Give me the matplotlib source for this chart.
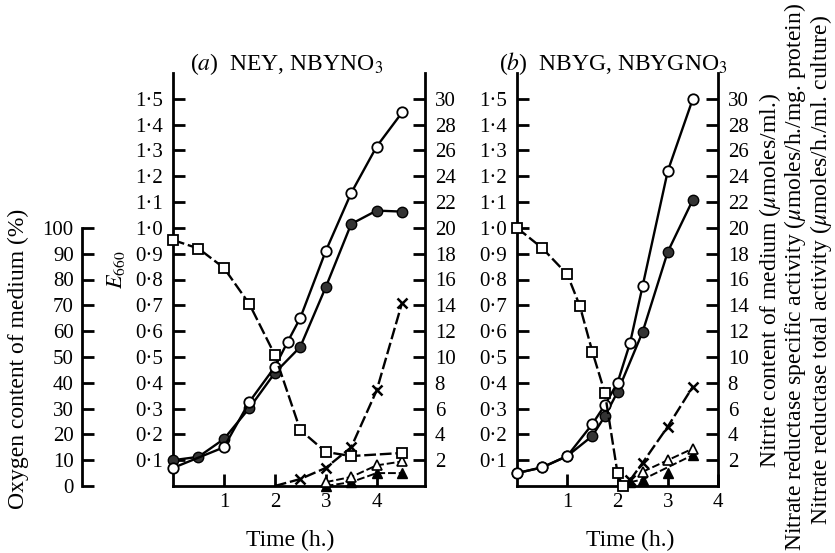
import matplotlib
matplotlib.use("Agg")
import matplotlib.pyplot as plt
import numpy as np

plt.rcParams["font.family"] = ["Liberation Serif", "DejaVu Serif"]
plt.rcParams["mathtext.fontset"] = "stix"

# ---------------------------------------------------------------
# DATA
# Panel (a): NEY, NBYNO3
a_open_t = [0, 1, 1.5, 2, 2.25, 2.5, 3, 3.5, 4, 4.5]
a_open_E = [0.07, 0.15, 0.326, 0.461, 0.558, 0.651, 0.91, 1.135, 1.315, 1.447]
a_fill_t = [0, 0.5, 1, 1.5, 2, 2.5, 3, 3.5, 4, 4.5]
a_fill_E = [0.10, 0.113, 0.182, 0.302, 0.438, 0.539, 0.77, 1.015, 1.067, 1.063]
a_oxy_t = [0, 0.5, 1, 1.5, 2, 2.5, 3, 3.5, 4.5]
a_oxy = [95.3, 92, 84.5, 70.5, 50.8, 21.7, 13.2, 11.6, 12.8]
a_nitrite_t = [2, 2.5, 3, 3.5, 4, 4.5]
a_nitrite = [0, 0.54, 1.4, 3.0, 7.4, 14.2]
a_spec_t = [3, 3.5, 4, 4.5]
a_spec = [0.3, 0.7, 1.6, 1.9]
a_total_t = [3, 3.5, 4, 4.5]
a_total = [0, 0.3, 1.0, 1.0]

# Panel (b): NBYG, NBYGNO3
b_open_t = [0, 0.5, 1, 1.5, 1.75, 2, 2.25, 2.5, 3, 3.5]
b_open_E = [0.05, 0.072, 0.116, 0.24, 0.314, 0.40, 0.554, 0.775, 1.22, 1.50]
b_fill_t = [0, 0.5, 1, 1.5, 1.75, 2, 2.5, 3, 3.5]
b_fill_E = [0.05, 0.072, 0.116, 0.194, 0.271, 0.364, 0.597, 0.907, 1.109]
b_oxy_t = [0, 0.5, 1, 1.25, 1.5, 1.75, 2, 2.1]
b_oxy = [100, 92.2, 82, 69.8, 52, 36, 5, 0]
b_nitrite_t = [2.25, 2.5, 3, 3.5]
b_nitrite = [0.45, 1.8, 4.6, 7.7]
b_spec_t = [2.5, 3, 3.5]
b_spec = [1.1, 2.0, 2.9]
b_total_t = [2.25, 2.5, 3, 3.5]
b_total = [0.3, 0.5, 1.0, 2.4]
b_total_on_line = [True, True, False, True]

e_ticks = np.round(np.arange(0.1, 1.51, 0.1), 1)
e_labels = [f"{v:.1f}".replace(".", "\u00b7") for v in e_ticks]
right_ticks = list(range(2, 31, 2))
oxy_ticks = list(range(0, 101, 10))
x_ticks = [1, 2, 3, 4]
# ---------------------------------------------------------------

W, H = 835, 553
fig = plt.figure(figsize=(W / 100, H / 100), dpi=100)

LW_AX = 2.0
TICK_LEN = 8.5
FS = 15      # tick labels
FS_LAB = 17  # axis labels and titles


def rect(x0, x1, y0=486, y1=73):
    return [x0 / W, (H - y0) / H, (x1 - x0) / W, (y0 - y1) / H]


def make_panel(r, xmax):
    ax = fig.add_axes(r)
    ax.set_xlim(0, xmax)
    ax.set_ylim(0, 1.6)
    ax.spines["top"].set_visible(False)
    ax.spines["right"].set_visible(False)
    for s in ["left", "bottom"]:
        ax.spines[s].set_linewidth(LW_AX)
    ax.set_xticks(x_ticks)
    ax.set_yticks(e_ticks)
    ax.set_yticklabels(e_labels)
    ax.tick_params(direction="in", length=TICK_LEN, width=LW_AX, labelsize=FS)
    ax.tick_params(axis="y", pad=7)
    ax.tick_params(axis="x", pad=5)

    axr = ax.twinx()
    axr.set_ylim(0, 32)
    for s in ["top", "left", "bottom"]:
        axr.spines[s].set_visible(False)
    axr.spines["right"].set_linewidth(LW_AX)
    axr.set_yticks(right_ticks)
    axr.tick_params(direction="in", length=TICK_LEN, width=LW_AX, labelsize=FS, pad=7)

    axo = ax.twinx()
    axo.set_ylim(0, 160)
    for s in ["top", "left", "bottom", "right"]:
        axo.spines[s].set_visible(False)
    axo.set_yticks([])
    return ax, axr, axo


def draw(ax, axr, axo, d):
    open_kw = dict(color="black", lw=1.7, marker="o", ms=7.5, mfc="white", mec="black", mew=1.3, clip_on=False)
    fill_kw = dict(color="black", lw=1.7, marker="o", ms=7.5, mfc="#333333", mec="black", mew=1.0, clip_on=False)
    ax.plot(d["fill_t"], d["fill_E"], zorder=3, **fill_kw)
    ax.plot(d["open_t"], d["open_E"], zorder=4, **open_kw)
    axo.plot(d["oxy_t"], d["oxy"], color="black", lw=1.7, ls=(0, (5, 1.6)), marker="s", ms=7.5,
             mfc="white", mec="black", mew=1.3, clip_on=False, zorder=3)
    start = 1 if d["nitrite"][0] == 0 else 0
    axr.plot(d["nitrite_t"], d["nitrite"], color="black", lw=1.7, ls=(0, (5, 1.6)), marker="x", ms=7,
             mew=1.8, markevery=slice(start, None), clip_on=False, zorder=3)
    axr.plot(d["spec_t"], d["spec"], color="black", lw=1.4, ls=(0, (4, 1.5)), marker="^", ms=7.5,
             mfc="white", mec="black", mew=1.2, clip_on=False, zorder=4)
    on = d["total_on"]
    tt = [t for t, k in zip(d["total_t"], on) if k]
    tv = [v for v, k in zip(d["total"], on) if k]
    axr.plot(tt, tv, color="black", lw=1.4, ls=(0, (4, 1.5)), clip_on=False, zorder=3)
    axr.plot(d["total_t"], d["total"], ls="none", marker="^", ms=7.5, mfc="black", mec="black",
             clip_on=False, zorder=3)


# Panel (a)
ax_a, axr_a, axo_a = make_panel(rect(173, 425), 4.95)
axo_a.spines["left"].set_visible(True)
axo_a.spines["left"].set_linewidth(LW_AX)
axo_a.spines["left"].set_position(("axes", -91 / 252))
axo_a.spines["left"].set_bounds(0, 100)
axo_a.yaxis.set_ticks_position("left")
axo_a.set_yticks(oxy_ticks)
axo_a.tick_params(axis="y", direction="in", length=TICK_LEN, width=LW_AX, labelsize=FS, pad=6,
                  left=True, right=False, labelleft=True, labelright=False)
draw(ax_a, axr_a, axo_a, dict(open_t=a_open_t, open_E=a_open_E, fill_t=a_fill_t, fill_E=a_fill_E,
                              oxy_t=a_oxy_t, oxy=a_oxy, nitrite_t=a_nitrite_t, nitrite=a_nitrite,
                              spec_t=a_spec_t, spec=a_spec, total_t=a_total_t, total=a_total,
                              total_on=[True] * len(a_total)))

# Panel (b)
ax_b, axr_b, axo_b = make_panel(rect(517, 718), 4.0)
draw(ax_b, axr_b, axo_b, dict(open_t=b_open_t, open_E=b_open_E, fill_t=b_fill_t, fill_E=b_fill_E,
                              oxy_t=b_oxy_t, oxy=b_oxy, nitrite_t=b_nitrite_t, nitrite=b_nitrite,
                              spec_t=b_spec_t, spec=b_spec, total_t=b_total_t, total=b_total,
                              total_on=b_total_on_line))

# Titles and axis labels
fig.text(287 / W, 1 - 64 / H, r"($\it{a}$)  NEY, NBYNO$_3$", ha="center", va="center", fontsize=FS_LAB)
fig.text(613 / W, 1 - 64 / H, r"($\it{b}$)  NBYG, NBYGNO$_3$", ha="center", va="center", fontsize=FS_LAB)
fig.text(290 / W, 1 - 540 / H, "Time (h.)", ha="center", va="center", fontsize=FS_LAB)
fig.text(630 / W, 1 - 540 / H, "Time (h.)", ha="center", va="center", fontsize=FS_LAB)
fig.text(18 / W, 1 - 359 / H, "Oxygen content of medium (%)", rotation=90, ha="center", va="center",
         fontsize=FS_LAB)
fig.text(116 / W, 1 - 270 / H, r"$E_{660}$", rotation=90, ha="center", va="center", fontsize=16)
fig.text(770 / W, 1 - 281 / H, r"Nitrite content of medium ($\mu$moles/ml.)", rotation=90,
         ha="center", va="center", fontsize=FS_LAB)
fig.text(795 / W, 1 - 277 / H, r"Nitrate reductase specific activity ($\mu$moles/h./mg. protein)",
         rotation=90, ha="center", va="center", fontsize=FS_LAB)
fig.text(821 / W, 1 - 270 / H, r"Nitrate reductase total activity ($\mu$moles/h./ml. culture)",
         rotation=90, ha="center", va="center", fontsize=FS_LAB)

fig.savefig("out.png", dpi=100)
